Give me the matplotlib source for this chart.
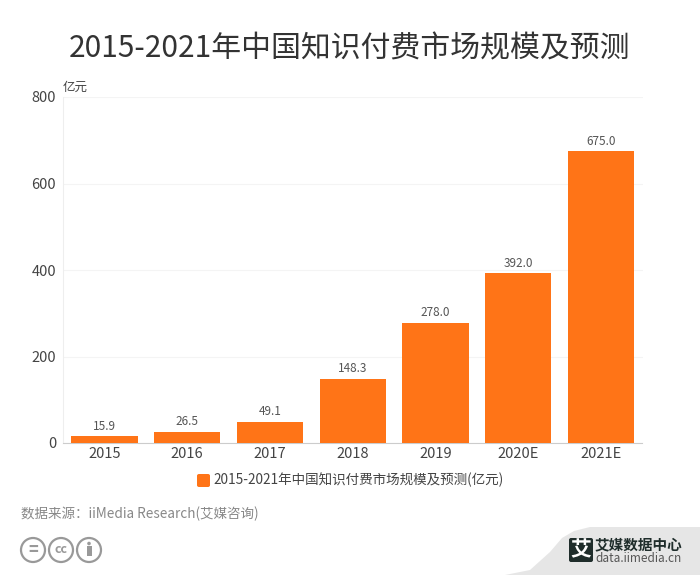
import matplotlib
matplotlib.use('Agg')
import matplotlib.pyplot as plt
from matplotlib.patches import Circle, FancyBboxPatch, Polygon, Rectangle
import numpy as np

plt.rcParams['font.family'] = ['Noto Sans CJK SC', 'DejaVu Sans']

categories = ['2015', '2016', '2017', '2018', '2019', '2020E', '2021E']
values = [15.9, 26.5, 49.1, 148.3, 278.0, 392.0, 675.0]
yticks = [0, 200, 400, 600, 800]
title = '2015-2021年中国知识付费市场规模及预测'
series_name = '2015-2021年中国知识付费市场规模及预测(亿元)'
unit = '亿元'
source = '数据来源：iiMedia Research(艾媒咨询)'

W, H = 700, 575
ORANGE = '#FF7417'
fig = plt.figure(figsize=(7, 5.75), dpi=100, facecolor='white')
ax = fig.add_axes([63/W, 1-443/H, 579.5/W, 346/H])
x = np.arange(len(categories))
ax.bar(x, values, width=0.8, color=ORANGE, zorder=3)
ax.set_xlim(-0.5, 6.5)
ax.set_ylim(0, 800)
ax.set_xticks(x, categories)
ax.set_yticks(yticks)
ax.tick_params(axis='x', length=0, pad=3, labelsize=10.5, labelcolor='#444444')
ax.tick_params(axis='y', length=0, pad=5, labelsize=10.5, labelcolor='#444444')
ax.grid(axis='y', color='#F4F4F4', lw=0.8, zorder=0)
for s in ['top', 'right']:
    ax.spines[s].set_visible(False)
ax.spines['left'].set_color('#EEEEEE')
ax.spines['bottom'].set_color('#CCCCCC')
for xi, v in zip(x, values):
    ax.annotate(f'{v:.1f}', (xi, v), xytext=(0, 2.5), textcoords='offset points',
                ha='center', va='bottom', fontsize=8.5, color='#555555')

def t(px, py, s, **kw):
    fig.text(px/W, 1-py/H, s, **kw)

t(350, 48.5, title, ha='center', va='center', fontsize=21.5, color='#333333')
t(63, 87, unit, ha='left', va='center', fontsize=9, color='#444444')

# legend
fig.add_artist(FancyBboxPatch((197/W, 1-487/H), 13/W, 13/H, transform=fig.transFigure,
                              boxstyle='round,pad=0,rounding_size=0.003', fc=ORANGE, ec='none'))
t(213, 480, series_name, ha='left', va='center', fontsize=9.75, color='#444444')
t(21, 514, source, ha='left', va='center', fontsize=9.75, color='#888888')

# licence icons and watermark drawn in pixel coordinates
overlay = fig.add_axes([0, 0, 1, 1], facecolor='none', zorder=5)
overlay.set_xlim(0, W)
overlay.set_ylim(H, 0)
overlay.axis('off')
for cx, s in zip([33, 61, 89], ['=', 'cc', '']):
    overlay.add_patch(Circle((cx, 550), 12, fc='white', ec='#999999', lw=1.6))
    if s:
        overlay.text(cx, 549.5, s, ha='center', va='center', fontsize=9 if s == 'cc' else 12,
                     color='#999999', fontweight='bold')
overlay.add_patch(Circle((89, 543.5), 1.8, fc='#999999', ec='none'))
overlay.add_patch(Rectangle((86.5, 546), 5, 10, fc='#999999', ec='none'))

xs = [505, 530, 550, 562, 574, 590, 700, 700, 505]
ys = [575, 570, 552, 538, 531, 527, 527, 575, 575]
overlay.add_patch(Polygon(list(zip(xs, ys)), fc='#E6E6E6', ec='none'))
overlay.add_patch(FancyBboxPatch((569, 538), 24, 24, boxstyle='round,pad=0,rounding_size=2',
                                 fc='#1F2D2B', ec='none'))
overlay.text(581, 549.5, '艾', ha='center', va='center', fontsize=15, color='white', fontweight='bold')
overlay.text(595, 544, '艾媒数据中心', ha='left', va='center', fontsize=10.5,
             color='#1F2D2B', fontweight='bold')
overlay.text(595, 558.5, 'data.iimedia.cn', ha='left', va='center', fontsize=8.5, color='#555555')

fig.savefig('out.png', dpi=100)
